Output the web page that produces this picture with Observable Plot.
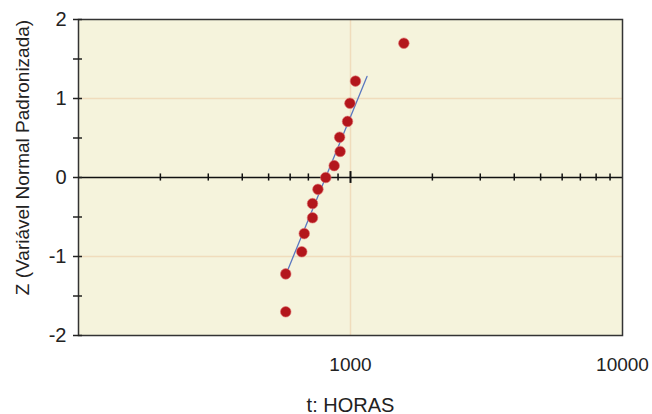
<!DOCTYPE html>
<html>
<head>
<meta charset="utf-8">
<script src="https://cdn.jsdelivr.net/npm/d3@7"></script>
<script src="https://cdn.jsdelivr.net/npm/@observablehq/plot@0.6"></script>
<style>
  html, body { margin: 0; padding: 0; background: #ffffff; }
</style>
</head>
<body>
<div id="chart"></div>
<script>
// Data
const horas = [578, 578, 662, 676, 725, 725, 759, 811, 871, 916, 912, 975, 995, 1043, 1571];
const zValues = [-1.70, -1.22, -0.94, -0.71, -0.51, -0.33, -0.15, 0, 0.15, 0.33, 0.51, 0.71, 0.94, 1.22, 1.70];
const fitHoras = [580, 1150];
const fitZ = [-1.22, 1.28];
const xTickLabels = [1000, 10000];
const yTickLabels = [-2, -1, 0, 1, 2];
const yTicks = [-2, -1.5, -1, -0.5, 0, 0.5, 1, 1.5, 2];
const zeroMinorTicks = [200, 300, 400, 500, 600, 700, 800, 900, 2000, 3000, 4000, 5000, 6000, 7000, 8000, 9000];
const zeroMajorTicks = [1000];
const gridX = [1000];
const gridY = [-1, 1];
const xLabel = "t: HORAS";
const yLabel = "Z (Variável Normal Padronizada)";

const points = horas.map((t, i) => ({t, z: zValues[i]}));
const fit = fitHoras.map((t, i) => ({t, z: fitZ[i]}));

const chart = Plot.plot({
  width: 652,
  height: 414,
  marginLeft: 78,
  marginRight: 30,
  marginTop: 19,
  marginBottom: 79,
  style: {fontFamily: "'Liberation Sans', Arial, sans-serif", fontSize: "19px", background: "#ffffff", color: "#222"},
  x: {type: "log", domain: [100, 10000], axis: null},
  y: {domain: [-2, 2], axis: null},
  marks: [
    Plot.frame({fill: "#f5f3dc", stroke: null}),
    Plot.ruleX(gridX, {stroke: "#f0dcbc", strokeWidth: 1.5}),
    Plot.ruleY(gridY, {stroke: "#f0dcbc", strokeWidth: 1.5}),
    Plot.ruleY([0], {stroke: "#111", strokeWidth: 1.5}),
    Plot.ruleX(zeroMinorTicks, {y1: -0.045, y2: 0.045, stroke: "#111", strokeWidth: 1.5}),
    Plot.ruleX(zeroMajorTicks, {y1: -0.075, y2: 0.075, stroke: "#111", strokeWidth: 2}),
    Plot.frame({stroke: "#333", strokeWidth: 1.5}),
    Plot.axisY(yTicks, {tickSize: 9, dx: 4, tickFormat: () => "", label: null, stroke: "#222", strokeWidth: 1.5}),
    Plot.axisY(yTickLabels, {tickSize: 0, tickPadding: 12, tickFormat: d => String(d), fontSize: 20, label: null, fill: "#222"}),
    Plot.axisX(xTickLabels, {tickSize: 0, tickPadding: 22, tickFormat: d => String(d), fontSize: 19, label: null, fill: "#222"}),
    Plot.line(fit, {x: "t", y: "z", stroke: "#5b78c0", strokeWidth: 1.3}),
    Plot.dot(points, {x: "t", y: "z", r: 5.3, fill: "#b3161c", stroke: "#e07070", strokeWidth: 0.6}),
    Plot.text([xLabel], {frameAnchor: "bottom", dy: 76, fontSize: 20, fill: "#222"}),
    Plot.text([yLabel], {frameAnchor: "left", dx: -56, dy: -20, rotate: -90, textAnchor: "middle", fontSize: 19, fill: "#222"})
  ]
});
document.getElementById("chart").appendChild(chart);
</script>
</body>
</html>
